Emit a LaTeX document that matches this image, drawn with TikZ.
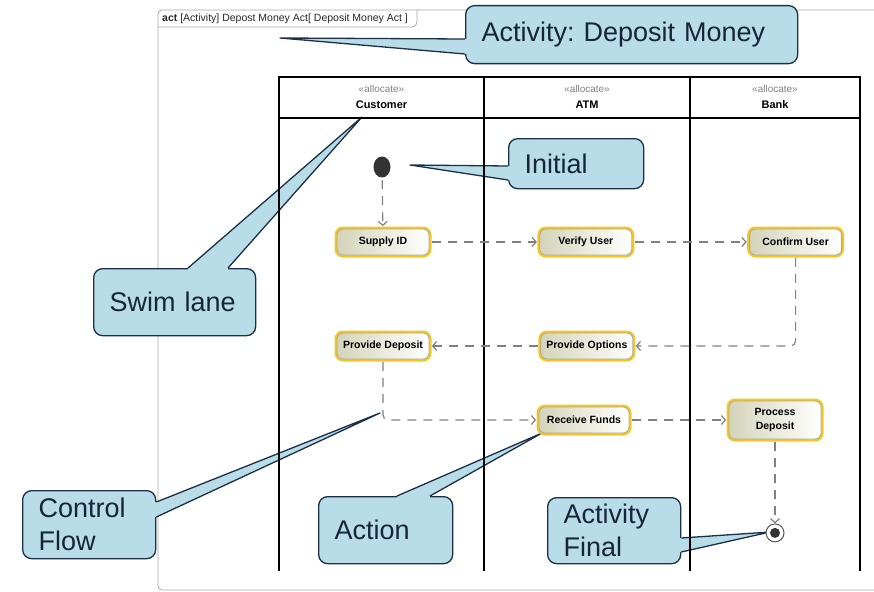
\documentclass[tikz,border=0pt]{standalone}
\usepackage{fontspec}
\setmainfont{Liberation Sans}
\usetikzlibrary{positioning, arrows.meta, calc, shapes.geometric}
\frenchspacing

\definecolor{notefill}{RGB}{185,221,232}
\definecolor{noteline}{RGB}{28,46,72}
\definecolor{notetext}{RGB}{22,36,60}
\definecolor{actring}{RGB}{246,200,30}
\definecolor{actfill}{RGB}{212,212,186}
\definecolor{flowgray}{RGB}{128,128,128}

\begin{document}
\begin{tikzpicture}[
		x=1pt, y=-1pt,
		>={Straight Barb[length=4pt, width=9pt]},
		% Frame Styles
		frame_line/.style={draw=gray!70, line width=0.8pt},
		lane_line/.style={draw=black, line width=1.6pt},
		lane_head/.style={align=center, font=\fontsize{11}{16}\selectfont},
		% Node Styles
		act_node/.style={rectangle, rounded corners=6pt, draw=gray!70, line width=0.8pt, left color=actfill, right color=white, preaction={draw=actring, line width=5pt}, font=\bfseries\fontsize{10.5}{14}\selectfont, minimum width=92pt, minimum height=26pt, inner sep=2pt, align=center},
		init_node/.style={ellipse, fill=black!80, minimum width=17pt, minimum height=21pt, inner sep=0pt},
		final_node/.style={circle, draw=gray!70!black, fill=white, line width=1pt, minimum size=18pt, inner sep=0pt, path picture={\fill[black!80] (path picture bounding box.center) circle (5pt);}},
		% Note Styles
		note_box/.style={rectangle, rounded corners=9pt, draw=noteline, line width=1.3pt, fill=notefill, text=notetext, anchor=north west, align=left, inner xsep=16pt, inner ysep=0pt, font=\fontsize{27}{33}\selectfont},
		note_wedge/.style={fill=notefill},
		note_edge/.style={draw=noteline, line width=1.3pt, line join=round},
		% Edge Styles
		flow_edge/.style={->, draw=flowgray, line width=1.2pt, dash pattern=on 9pt off 7pt, rounded corners=5pt, shorten <=2.5pt, shorten >=2.5pt}
	]
	\useasboundingbox (0,0) rectangle (874,591);
	\clip (0,0) rectangle (874,591);
	
	% --- 1. FRAME ---
	\draw[frame_line, rounded corners=4pt] (890,10) -- (158,10) -- (158,590) -- (890,590);
	\draw[frame_line, rounded corners=5pt] (158,27) -- (417,27) -- (417,10);
	\node[anchor=west, inner sep=0pt, font=\fontsize{10.5}{12}\selectfont, text=black!85] (tab) at (162,19) {\textbf{act} [Activity] Depost Money Act[ Deposit Money Act ]};
	
	% --- 2. NOTES ---
	\node[note_box, text width=300pt, minimum height=58pt] (note_act) at (465,5) {Activity: Deposit Money};
	\node[note_box, text width=103pt, minimum height=50pt] (note_init) at (508,138) {Initial};
	\node[note_box, text width=130pt, minimum height=67pt] (note_lane) at (93,268) {Swim lane};
	\node[note_box, text width=101pt, minimum height=68pt] (note_flow) at (22,490) {Control\\Flow};
	\node[note_box, text width=102pt, minimum height=67pt] (note_action) at (318,496) {Action};
	\node[note_box, text width=101pt, minimum height=66pt] (note_final) at (547,497) {Activity\\Final};
	
	% Pointer tips
	\coordinate (tip_act) at (280,38);
	\coordinate (tip_init) at (410,165);
	\coordinate (tip_lane) at (362,117);
	\coordinate (tip_flow) at (380,413);
	\coordinate (tip_action) at (542,433);
	\coordinate (tip_final) at (770,532);
	
	% Pointers (left side)
	\fill[note_wedge] (tip_act) -- ($(note_act.north west)+(0,34)$) -- ++(5,0) -- ++(0,15) -- ($(note_act.north west)+(0,49)$) -- cycle;
	\draw[note_edge] ($(note_act.north west)+(0,34)$) -- (tip_act) -- ($(note_act.north west)+(0,49)$);
	\fill[note_wedge] (tip_init) -- ($(note_init.north west)+(0,28)$) -- ++(5,0) -- ++(0,14) -- ($(note_init.north west)+(0,42)$) -- cycle;
	\draw[note_edge] ($(note_init.north west)+(0,28)$) -- (tip_init) -- ($(note_init.north west)+(0,42)$);
	% Pointers (top side)
	\fill[note_wedge] (tip_lane) -- ($(note_lane.north west)+(95,0)$) -- ++(0,5) -- ++(40,0) -- ($(note_lane.north west)+(135,0)$) -- cycle;
	\draw[note_edge] ($(note_lane.north west)+(95,0)$) -- (tip_lane) -- ($(note_lane.north west)+(135,0)$);
	\fill[note_wedge] (tip_action) -- ($(note_action.north west)+(79,0)$) -- ++(0,5) -- ++(33,0) -- ($(note_action.north west)+(112,0)$) -- cycle;
	\draw[note_edge] ($(note_action.north west)+(79,0)$) -- (tip_action) -- ($(note_action.north west)+(112,0)$);
	% Pointers (right side)
	\fill[note_wedge] (tip_flow) -- ($(note_flow.north east)+(0,12)$) -- ++(-5,0) -- ++(0,15) -- ($(note_flow.north east)+(0,27)$) -- cycle;
	\draw[note_edge] ($(note_flow.north east)+(0,12)$) -- (tip_flow) -- ($(note_flow.north east)+(0,27)$);
	\fill[note_wedge] (tip_final) -- ($(note_final.north east)+(0,41)$) -- ++(-5,0) -- ++(0,14) -- ($(note_final.north east)+(0,55)$) -- cycle;
	\draw[note_edge] ($(note_final.north east)+(0,41)$) -- (tip_final) -- ($(note_final.north east)+(0,55)$);
	
	% --- 3. SWIM LANES ---
	\draw[lane_line] (279,571) -- (279,77) -- (860,77) -- (860,571);
	\draw[lane_line] (279,118) -- (860,118);
	\draw[lane_line] (484,77) -- (484,571);
	\draw[lane_line] (690,77) -- (690,571);
	\node[lane_head] (lane_customer) at (381.5,97) {\textcolor{gray}{\fontsize{10}{16}\selectfont «allocate»}\\\textbf{Customer}};
	\node[lane_head] (lane_atm) at (587,97) {\textcolor{gray}{\fontsize{10}{16}\selectfont «allocate»}\\\textbf{ATM}};
	\node[lane_head] (lane_bank) at (775,97) {\textcolor{gray}{\fontsize{10}{16}\selectfont «allocate»}\\\textbf{Bank}};
	
	% --- 4. ACTIONS ---
	\node[init_node] (init) at (382,167) {};
	\node[act_node] (supply) at (383,242) {Supply ID};
	\node[act_node, right=110pt of supply] (verify) {Verify User};
	\node[act_node, right=117pt of verify] (confirm) {Confirm User};
	\node[act_node] (provdep) at (383,346) {Provide Deposit};
	\node[act_node, right=111pt of provdep] (options) {Provide Options};
	\node[act_node, minimum width=90pt] (receive) at (584,420) {Receive Funds};
	\node[act_node, minimum height=38pt] (process) at (775,420) {Process\\Deposit};
	\node[final_node, below=84pt of process] (final) {};
	
	% ================= CONTROL FLOWS =================
	\draw[flow_edge] (init) -- (supply);
	\draw[flow_edge] (supply) -- (verify);
	\draw[flow_edge] (verify) -- (confirm);
	\draw[flow_edge] (confirm.south) |- (options.east);
	\draw[flow_edge] (options) -- (provdep);
	\draw[flow_edge] (provdep.south) |- (receive.west);
	\draw[flow_edge] (receive) -- (process);
	\draw[flow_edge, shorten >=0pt] (process) -- (final);
	
\end{tikzpicture}
\end{document}
